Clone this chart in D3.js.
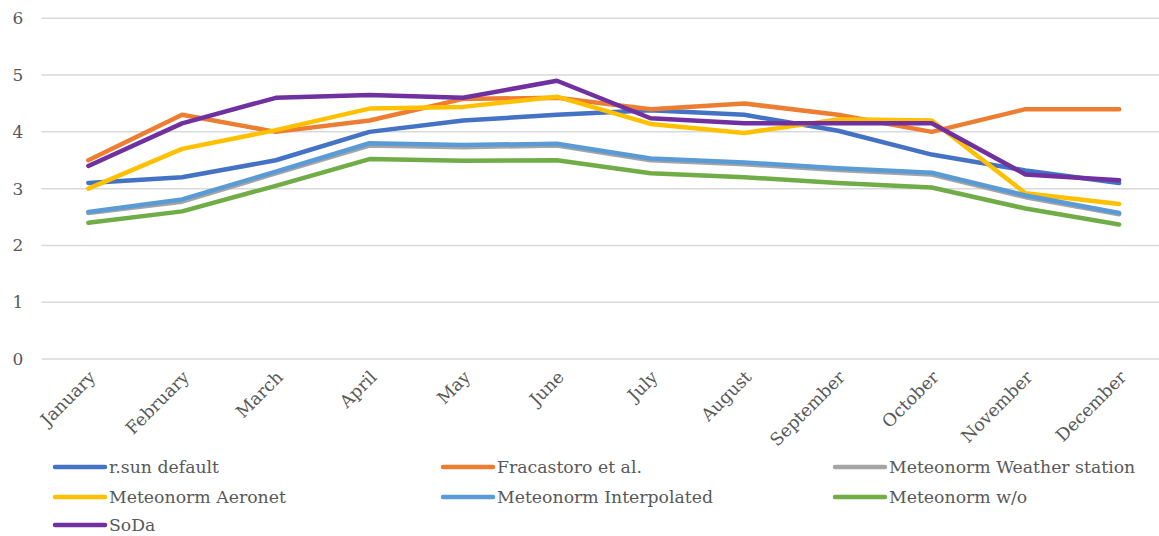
<!DOCTYPE html>
<html>
<head>
<meta charset="utf-8">
<script src="https://cdn.jsdelivr.net/npm/d3@7"></script>
<style>
  html, body { margin: 0; padding: 0; background: #fff; }
  svg { display: block; }
  text { font-family: "DejaVu Serif", "Liberation Serif", serif; fill: #595959; }
</style>
</head>
<body>
<svg id="chart" width="1159" height="536"></svg>
<script>
const months = ["January","February","March","April","May","June","July","August","September","October","November","December"];
const yTicks = [0, 1, 2, 3, 4, 5, 6];

const seriesNames = ["r.sun default","Fracastoro et al.","Meteonorm Weather station","Meteonorm Aeronet","Meteonorm Interpolated","Meteonorm w/o","SoDa"];
const seriesColors = ["#4472C4","#ED7D31","#A5A5A5","#FFC000","#5B9BD5","#70AD47","#7030A0"];

const rsunDefault   = [3.1, 3.2, 3.5, 4.0, 4.2, 4.3, 4.38, 4.3, 4.02, 3.6, 3.32, 3.1];
const fracastoro    = [3.5, 4.3, 4.0, 4.2, 4.58, 4.6, 4.4, 4.5, 4.3, 4.0, 4.4, 4.4];
const mnWeather     = [2.57, 2.77, 3.27, 3.76, 3.73, 3.76, 3.5, 3.43, 3.33, 3.25, 2.85, 2.55];
const mnAeronet     = [3.0, 3.7, 4.03, 4.41, 4.44, 4.62, 4.14, 3.98, 4.22, 4.2, 2.92, 2.73];
const mnInterp      = [2.59, 2.81, 3.3, 3.8, 3.77, 3.79, 3.53, 3.46, 3.36, 3.28, 2.88, 2.57];
const mnWithout     = [2.4, 2.6, 3.05, 3.52, 3.49, 3.5, 3.27, 3.2, 3.1, 3.02, 2.65, 2.37];
const soda          = [3.4, 4.15, 4.6, 4.65, 4.6, 4.9, 4.24, 4.15, 4.15, 4.15, 3.25, 3.15];

const seriesValues = [rsunDefault, fracastoro, mnWeather, mnAeronet, mnInterp, mnWithout, soda];

const svg = d3.select("#chart");
const plot = { left: 41.5, right: 1166, top: 18.3, bottom: 359 };

const x = d3.scaleBand().domain(months).range([plot.left, plot.right]).padding(0);
const y = d3.scaleLinear().domain([0, 6]).range([plot.bottom, plot.top]);

// gridlines
svg.append("g").selectAll("line").data(yTicks).join("line")
  .attr("x1", plot.left).attr("x2", 1159)
  .attr("y1", d => y(d)).attr("y2", d => y(d))
  .attr("stroke", "#D9D9D9").attr("stroke-width", 1.5);

// y labels
svg.append("g").selectAll("text").data(yTicks).join("text")
  .attr("x", 18).attr("y", d => y(d))
  .attr("text-anchor", "middle").attr("dominant-baseline", "central")
  .style("font-size", "17px")
  .text(d => d);

// x labels
const cx = d => x(d) + x.bandwidth() / 2;
svg.append("g").selectAll("text").data(months).join("text")
  .attr("transform", d => `translate(${cx(d) + 4},${374}) rotate(-45)`)
  .attr("text-anchor", "end").attr("dominant-baseline", "central")
  .style("font-size", "17.5px")
  .text(d => d);

// lines
const line = d3.line().x((d, i) => cx(months[i])).y(d => y(d));
svg.append("g").selectAll("path").data(seriesValues).join("path")
  .attr("d", d => line(d))
  .attr("fill", "none")
  .attr("stroke", (d, i) => seriesColors[i])
  .attr("stroke-width", 4.5)
  .attr("stroke-linecap", "round")
  .attr("stroke-linejoin", "round");

// legend
const legendCols = [55, 443, 835];
const legendRows = [467, 497, 525];
const leg = svg.append("g").selectAll("g").data(seriesNames).join("g")
  .attr("transform", (d, i) => `translate(${legendCols[i % 3]},${legendRows[Math.floor(i / 3)]})`);
leg.append("line").attr("x1", 0).attr("x2", 50).attr("y1", 0).attr("y2", 0)
  .attr("stroke", (d, i) => seriesColors[i]).attr("stroke-width", 4.5).attr("stroke-linecap", "round");
leg.append("text").attr("x", 54).attr("y", 0).attr("dominant-baseline", "central")
  .style("font-size", "17.3px")
  .text(d => d);
</script>
</body>
</html>
